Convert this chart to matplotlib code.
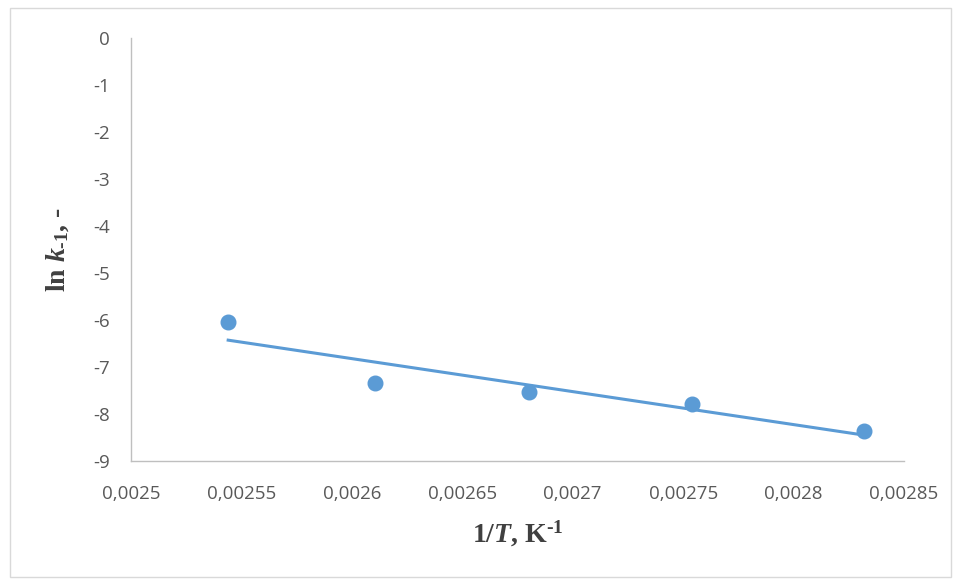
import numpy as np
import matplotlib.pyplot as plt
from matplotlib.patches import Rectangle
from matplotlib.ticker import FuncFormatter

inv_T = [0.002544, 0.0026105, 0.00268, 0.002754, 0.002832]
ln_k = [-6.04, -7.34, -7.53, -7.79, -8.36]

plt.rcParams['mathtext.fontset'] = 'custom'
plt.rcParams['mathtext.rm'] = 'Liberation Serif:bold'
plt.rcParams['mathtext.it'] = 'Liberation Serif:bold:italic'
plt.rcParams['mathtext.bf'] = 'Liberation Serif:bold'

fig = plt.figure(figsize=(9.61, 5.80), dpi=100)
fig.patches.append(Rectangle((10 / 961, 3 / 580), 941 / 961, 569 / 580,
                             transform=fig.transFigure, fill=False,
                             edgecolor='#d9d9d9', linewidth=1))
ax = fig.add_axes([131 / 961, 1 - 461 / 580, 773 / 961, 423 / 580])

# trendline (linear fit)
k, b = np.polyfit(inv_T, ln_k, 1)
xs = np.array([min(inv_T), max(inv_T)])
ax.plot(xs, k * xs + b, color='#5b9bd5', linewidth=2.2, zorder=2)
ax.plot(inv_T, ln_k, 'o', color='#5b9bd5', markersize=10.5, zorder=3)

ax.set_xlim(0.0025, 0.00285)
ax.set_ylim(-9, 0)
ax.set_xticks(np.arange(0.0025, 0.002851, 0.00005))
ax.set_yticks(range(-9, 1))

def comma(v, pos):
    s = ('%.5f' % v).rstrip('0').rstrip('.')
    return s.replace('.', ',')

ax.xaxis.set_major_formatter(FuncFormatter(comma))
ax.yaxis.set_major_formatter(FuncFormatter(lambda v, p: '%d' % v))

for side in ['top', 'right']:
    ax.spines[side].set_visible(False)
for side in ['left', 'bottom']:
    ax.spines[side].set_color('#bfbfbf')
    ax.spines[side].set_linewidth(1)
ax.tick_params(length=0, labelsize=13.5, labelcolor='#595959')
ax.tick_params(axis='x', pad=17)
ax.tick_params(axis='y', pad=15)
for lab in ax.get_xticklabels() + ax.get_yticklabels():
    lab.set_family('Open Sans')

ax.set_xlabel(r'1/$T$, K$^{\text{-1}}$', fontsize=20, fontweight='bold',
              family='Liberation Serif', color='#404040', labelpad=12)
ax.set_ylabel(r'ln $k_{\text{-1}}$, -', fontsize=20, fontweight='bold',
              family='Liberation Serif', color='#404040', labelpad=16)

fig.savefig('out.png', dpi=100)
